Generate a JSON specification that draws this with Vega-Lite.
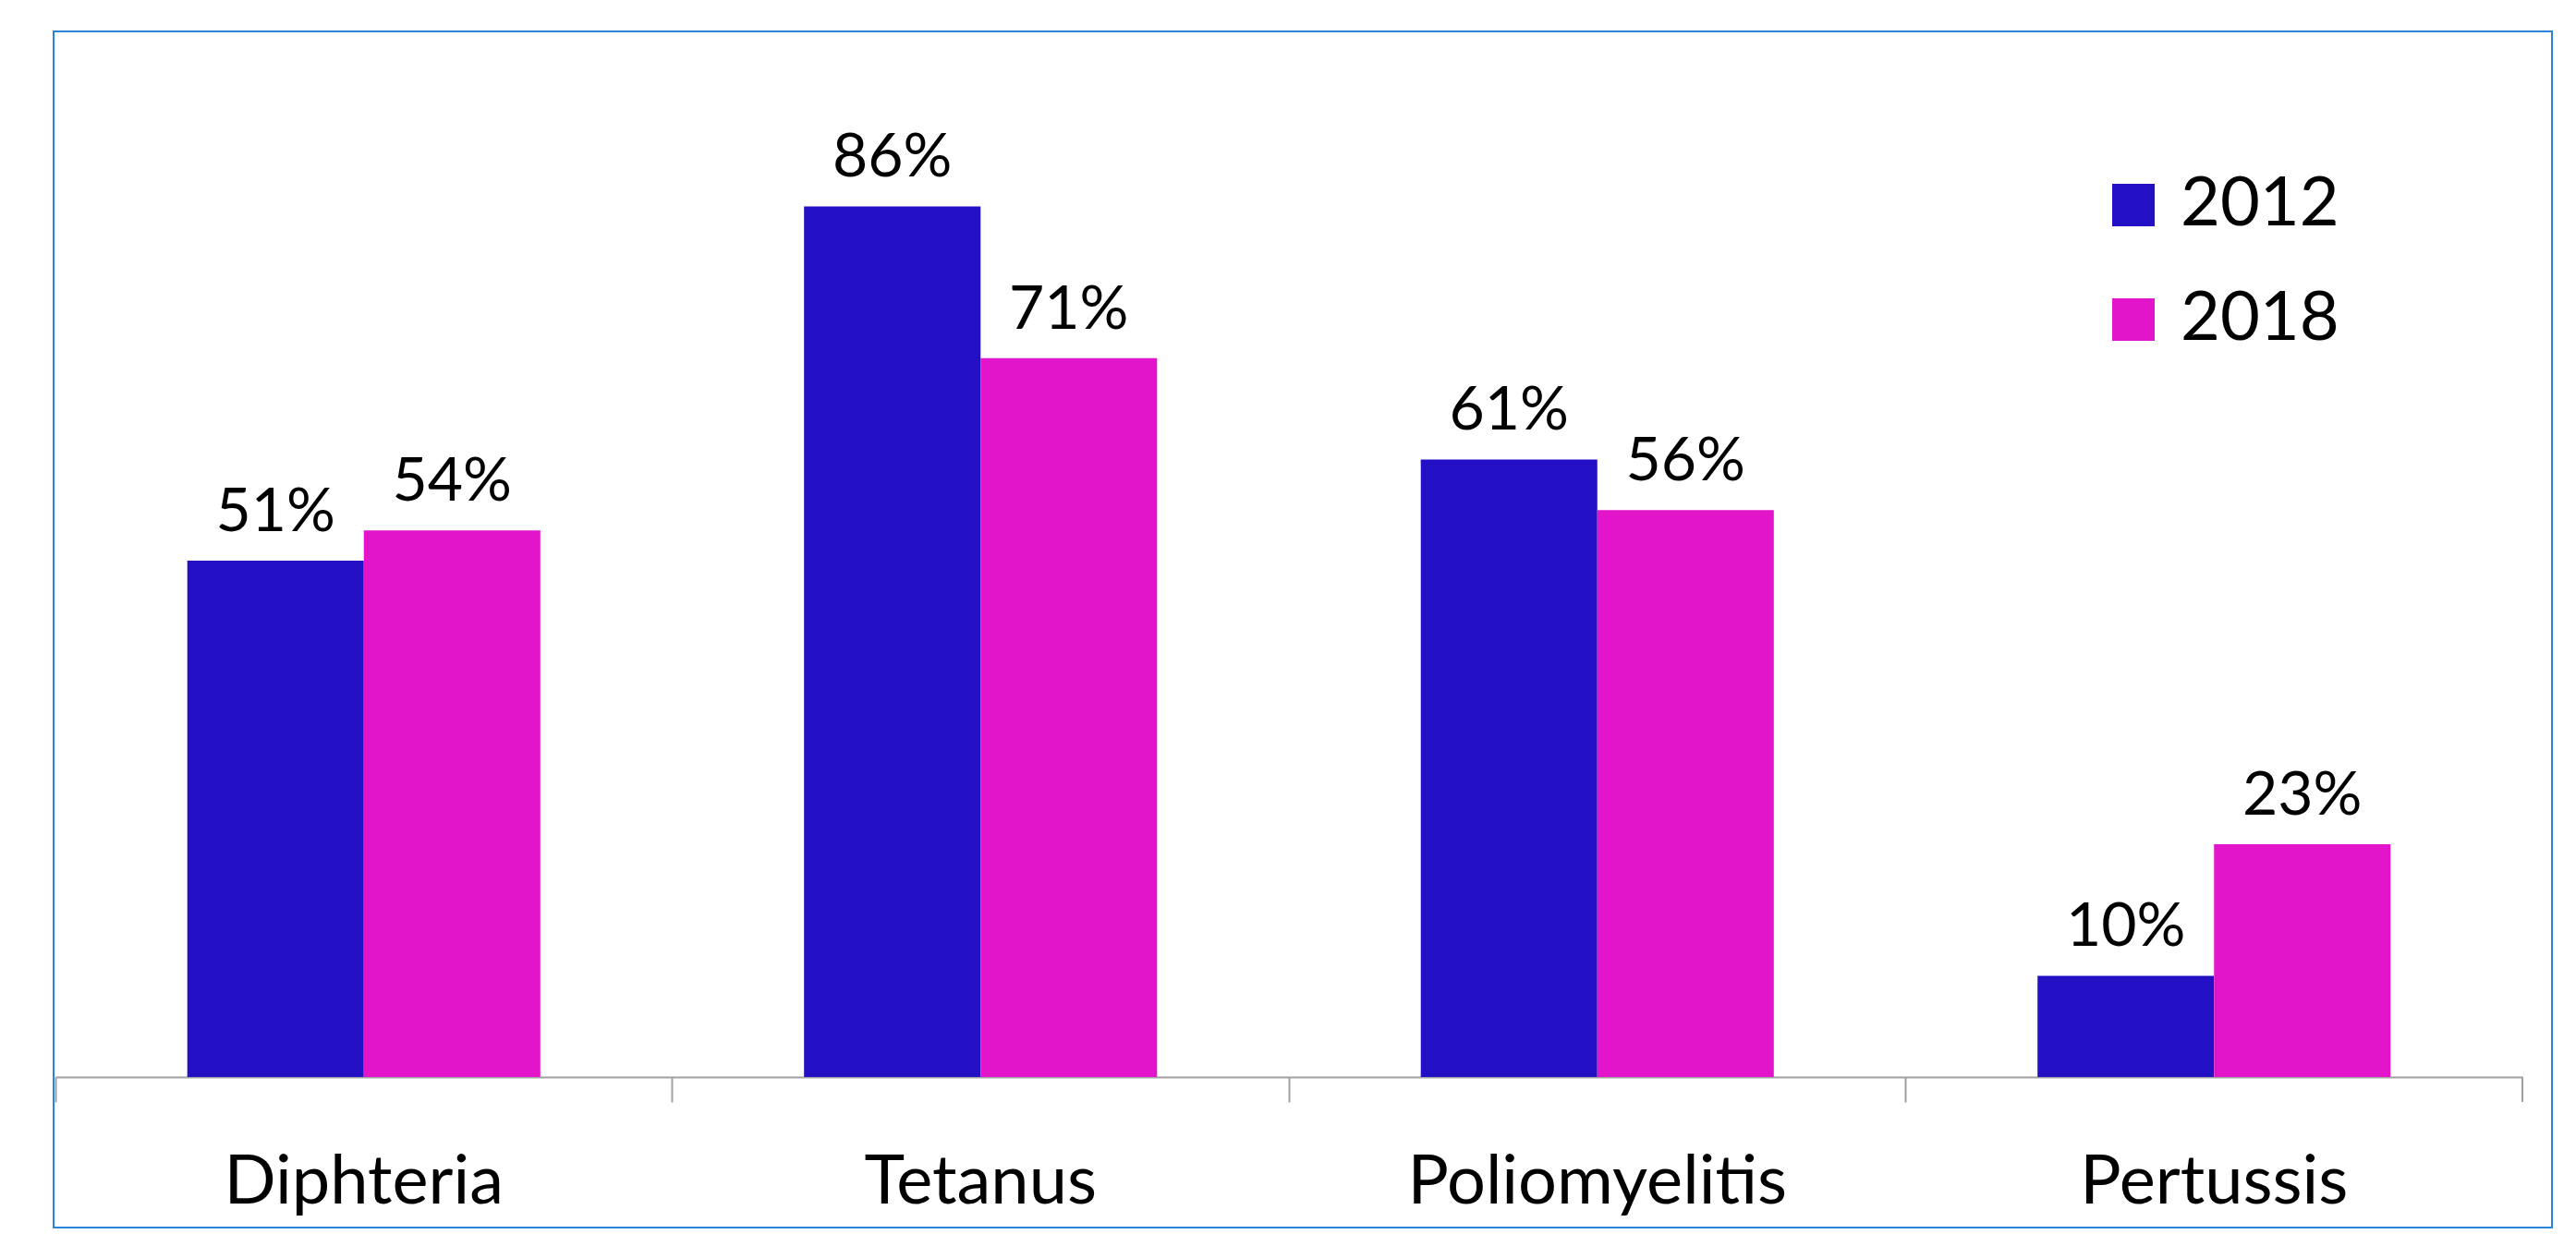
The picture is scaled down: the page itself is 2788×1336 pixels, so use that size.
{
  "$schema": "https://vega.github.io/schema/vega-lite/v6.json",
  "width": 2704,
  "height": 1295,
  "autosize": "none",
  "padding": {"left": 58, "top": 34, "right": 26, "bottom": 7},
  "background": "white",
  "config": {"view": {"stroke": "#2A84D8", "strokeWidth": 2}, "font": "Lato"},
  "data": {"values": [
    {"disease": "Diphteria", "year": "2012", "value": 0.51},
    {"disease": "Diphteria", "year": "2018", "value": 0.54},
    {"disease": "Tetanus", "year": "2012", "value": 0.86},
    {"disease": "Tetanus", "year": "2018", "value": 0.71},
    {"disease": "Poliomyelitis", "year": "2012", "value": 0.61},
    {"disease": "Poliomyelitis", "year": "2018", "value": 0.56},
    {"disease": "Pertussis", "year": "2012", "value": 0.10},
    {"disease": "Pertussis", "year": "2018", "value": 0.23}
  ]},
  "layer": [
    {
      "mark": {"type": "bar"},
      "encoding": {
        "x": {
          "field": "disease", "type": "nominal",
          "sort": ["Diphteria", "Tetanus", "Poliomyelitis", "Pertussis"],
          "scale": {"range": [2, 2672], "paddingInner": 0, "paddingOuter": 0},
          "axis": {
            "title": null, "bandPosition": 0, "offset": -163,
            "domainColor": "#A0A0A0", "domainWidth": 2,
            "tickColor": "#A0A0A0", "tickWidth": 2, "tickSize": 27,
            "labelFontSize": 74, "labelFont": "Lato", "labelColor": "black",
            "labelAngle": 0, "labelBaseline": "alphabetic", "labelPadding": 109,
            "labelLimit": 0, "grid": false
          }
        },
        "xOffset": {"field": "year", "type": "nominal", "scale": {"paddingInner": 0, "paddingOuter": 0.747}},
        "y": {"field": "value", "type": "quantitative", "scale": {"domain": [0, 1], "range": [1132, 36], "nice": false}, "axis": null},
        "color": {
          "field": "year", "type": "nominal",
          "scale": {"domain": ["2012", "2018"], "range": ["#2310C4", "#E315CB"]},
          "legend": {
            "title": null, "orient": "none", "legendX": 2214, "legendY": 151,
            "direction": "vertical", "symbolType": "square", "symbolSize": 2116,
            "symbolStrokeWidth": 0, "labelFontSize": 74, "labelFont": "Lato",
            "labelColor": "black", "labelOffset": 14, "rowPadding": 50, "padding": 0,
            "labelLimit": 0, "symbolOpacity": 1
          }
        }
      }
    },
    {
      "mark": {"type": "text", "dy": -32, "baseline": "alphabetic", "fontSize": 66, "font": "Lato", "color": "black"},
      "encoding": {
        "x": {"field": "disease", "type": "nominal", "sort": ["Diphteria", "Tetanus", "Poliomyelitis", "Pertussis"]},
        "xOffset": {"field": "year", "type": "nominal"},
        "y": {"field": "value", "type": "quantitative"},
        "text": {"field": "value", "type": "quantitative", "format": ".0%"}
      }
    },
    {
      "data": {"values": [{"disease": "Pertussis"}]},
      "mark": {"type": "rule", "color": "#A0A0A0", "strokeWidth": 2},
      "encoding": {
        "x": {"field": "disease", "type": "nominal", "bandPosition": 1, "sort": ["Diphteria", "Tetanus", "Poliomyelitis", "Pertussis"]},
        "y": {"datum": 0},
        "y2": {"datum": -0.0246}
      }
    }
  ]
}
